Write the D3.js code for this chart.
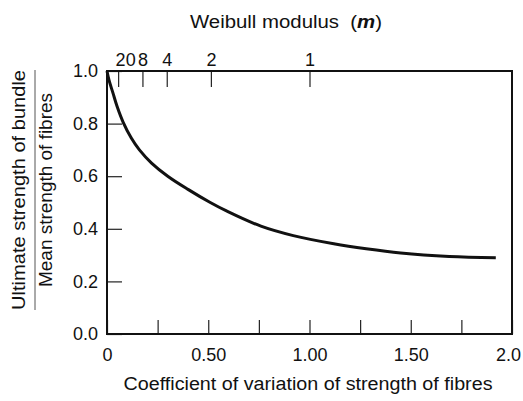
<!DOCTYPE html>
<html>
<head>
<meta charset="utf-8">
<script src="https://cdn.jsdelivr.net/npm/d3@7"></script>
<style>
  body { margin: 0; background: #fff; }
  svg text { font-family: "Liberation Sans", Arial, sans-serif; fill: #111; }
</style>
</head>
<body>
<div id="chart"></div>
<script>
// curve: coefficient of variation vs bundle/mean strength
const cvValues = [0, 0.01, 0.03, 0.05, 0.08, 0.12, 0.16, 0.22, 0.30, 0.40, 0.51, 0.59, 0.76, 0.92, 1.12, 1.28, 1.45, 1.69, 1.92];
const strengthRatio = [1.0, 0.965, 0.915, 0.865, 0.805, 0.745, 0.70, 0.65, 0.60, 0.55, 0.50, 0.468, 0.41, 0.374, 0.343, 0.324, 0.308, 0.295, 0.29];

// axes
const bottomTicks = [0, 0.25, 0.5, 0.75, 1.0, 1.25, 1.5, 1.75, 2.0];
const bottomLabelAt = [0, 0.5, 1.0, 1.5, 2.0];
const bottomLabelText = ["0", "0.50", "1.00", "1.50", "2.0"];
const yTicks = [0, 0.2, 0.4, 0.6, 0.8, 1.0];
const weibullModulus = [20, 8, 4, 2, 1];
const weibullCV = [0.055, 0.175, 0.295, 0.513, 1.0];

function drawChart() {
    "use strict";
    const W = 523, H = 401;
    const margin = {top: 71, right: 11, bottom: 67, left: 107};
    const w = W - margin.left - margin.right;
    const h = H - margin.top - margin.bottom;

    const svg = d3.select("#chart").append("svg")
        .attr("width", W).attr("height", H);
    const g = svg.append("g")
        .attr("transform", `translate(${margin.left},${margin.top})`);

    const x = d3.scaleLinear().domain([0, 2.0]).range([0, w]);
    const y = d3.scaleLinear().domain([0, 1.0]).range([h, 0]);

    // bottom axis, ticks pointing in
    const bottom = g.append("g")
        .attr("transform", `translate(0,${h})`)
        .call(d3.axisBottom(x)
            .tickValues(bottomTicks)
            .tickSize(-14)
            .tickPadding(14)
            .tickFormat(d => {
                const k = bottomLabelAt.indexOf(d);
                return k >= 0 ? bottomLabelText[k] : "";
            }));

    // left axis
    const left = g.append("g")
        .call(d3.axisLeft(y)
            .tickValues(yTicks)
            .tickSize(-15)
            .tickPadding(9)
            .tickFormat(d3.format(".1f")));

    // top axis - Weibull modulus
    const top = g.append("g")
        .call(d3.axisTop(x)
            .tickValues(weibullCV)
            .tickSize(-16)
            .tickPadding(5)
            .tickFormat((d, i) => weibullModulus[i]));

    [bottom, left, top].forEach(ax => {
        ax.select(".domain").remove();
        ax.selectAll(".tick line").attr("stroke", "#222").attr("stroke-width", 1.2);
        ax.selectAll(".tick text")
            .style("font-size", "18px")
            .style("font-family", "'Liberation Sans', Arial, sans-serif")
            .attr("fill", "#111");
    });
    // the 20 label sits a bit right of its tick, 2.0 is pulled in from the edge
    top.selectAll(".tick text").attr("dx", (d, i) => i === 0 ? 7 : 0);
    bottom.selectAll(".tick text").attr("dx", d => d === 2.0 ? -4 : 0);

    // frame
    g.append("rect")
        .attr("x", 0).attr("y", 0)
        .attr("width", w).attr("height", h)
        .attr("fill", "none")
        .attr("stroke", "#111")
        .attr("stroke-width", 2);

    // the curve
    const pts = cvValues.map((c, i) => [c, strengthRatio[i]]);
    const line = d3.line()
        .x(d => x(d[0]))
        .y(d => y(d[1]))
        .curve(d3.curveCatmullRom);
    g.append("path")
        .datum(pts)
        .attr("d", line)
        .attr("fill", "none")
        .attr("stroke", "#111")
        .attr("stroke-width", 3);

    // titles
    svg.append("text")
        .attr("x", 286).attr("y", 28)
        .attr("text-anchor", "middle")
        .attr("textLength", 192)
        .attr("lengthAdjust", "spacingAndGlyphs")
        .style("font-size", "18px")
        .html('Weibull modulus \u00a0(<tspan font-style="italic" font-weight="bold">m</tspan>)');

    svg.append("text")
        .attr("x", 308).attr("y", 390)
        .attr("text-anchor", "middle")
        .attr("textLength", 369)
        .attr("lengthAdjust", "spacingAndGlyphs")
        .style("font-size", "18px")
        .text("Coefficient of variation of strength of fibres");

    // y label as a fraction
    svg.append("text")
        .attr("transform", `translate(25,190) rotate(-90)`)
        .attr("text-anchor", "middle")
        .attr("textLength", 240)
        .attr("lengthAdjust", "spacingAndGlyphs")
        .style("font-size", "18px")
        .text("Ultimate strength of bundle");
    svg.append("line")
        .attr("x1", 35).attr("x2", 35)
        .attr("y1", 70).attr("y2", 310)
        .attr("stroke", "#555").attr("stroke-width", 1);
    svg.append("text")
        .attr("transform", `translate(52,190) rotate(-90)`)
        .attr("text-anchor", "middle")
        .attr("textLength", 194)
        .attr("lengthAdjust", "spacingAndGlyphs")
        .style("font-size", "18px")
        .text("Mean strength of fibres");
}

drawChart();
</script>
</body>
</html>
